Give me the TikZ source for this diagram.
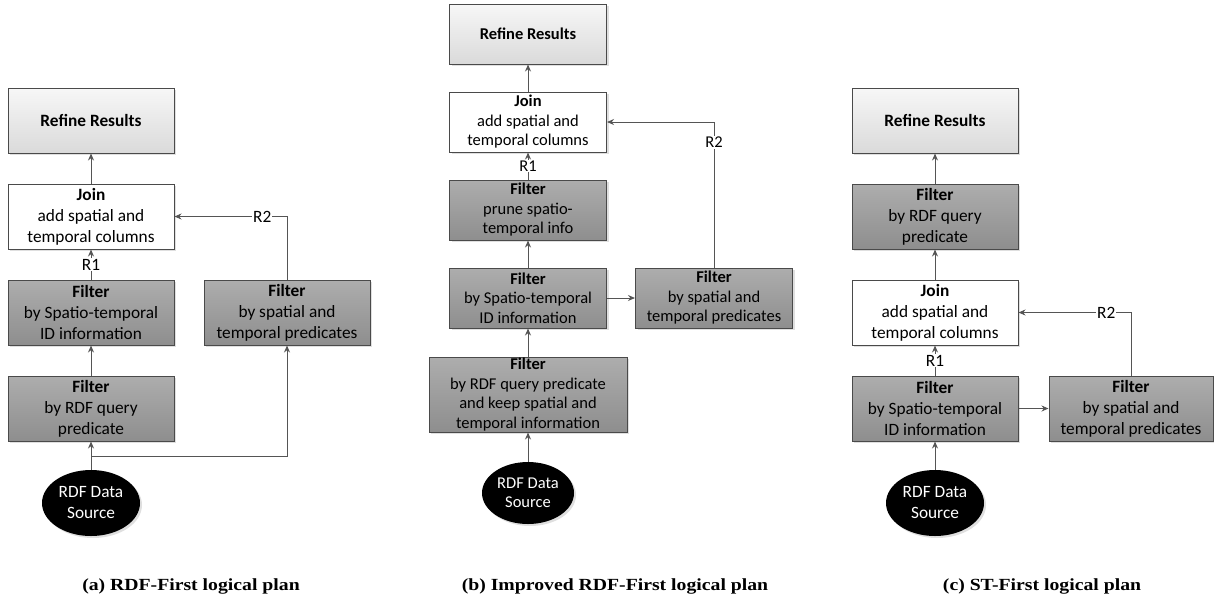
\documentclass[tikz,border=0pt]{standalone}
\usepackage{fontspec}
\setmainfont{Carlito}
\newfontfamily\capfont[FakeStretch=1.16]{Liberation Serif}
\usetikzlibrary{arrows.meta,shapes.geometric,shadows}
\definecolor{bordercol}{HTML}{4A4A4A}
\definecolor{linecol}{HTML}{555555}
\definecolor{filttop}{HTML}{ADADAD}
\definecolor{filtbot}{HTML}{8E8E8E}
\definecolor{reftop}{HTML}{F7F7F7}
\definecolor{refbot}{HTML}{DADADA}
\tikzset{
  box/.style={rectangle, draw=bordercol, line width=1pt, align=center, inner sep=0pt,
    drop shadow={shadow xshift=2pt, shadow yshift=-2pt, opacity=0.25, fill=gray}},
  bigfont/.style={font=\fontsize{17.3}{21}\selectfont},
  smallfont/.style={font=\fontsize{16.5}{19.5}\selectfont},
  refine/.style={box, top color=reftop, bottom color=refbot},
  filt/.style={box, top color=filttop, bottom color=filtbot},
  joinbox/.style={box, fill=white},
  src/.style={ellipse, fill=black, text=white, align=center, inner sep=0pt,
    drop shadow={shadow xshift=2pt, shadow yshift=-2pt, opacity=0.25, fill=gray}},
  conn/.style={draw=linecol, line width=1pt, -{Stealth[length=7pt,width=6pt]}},
  lab/.style={fill=white, inner sep=1pt},
  capt/.style={font=\capfont\bfseries\fontsize{17}{20}\selectfont, anchor=base},
  asize/.style={minimum width=166pt, minimum height=65pt},
  bsize/.style={minimum width=157pt, minimum height=60pt},
}
\begin{document}
\begin{tikzpicture}[x=1pt,y=-1pt]
\useasboundingbox (0,0) rectangle (1214,598);

% ---------- (a) ----------
\begin{scope}[bigfont]
\node[refine, asize] (a-ref) at (91,120.5) {\textbf{Refine Results}};
\node[joinbox, asize] (a-join) at (91,216.5) {\textbf{Join}\\add spatial and\\temporal columns};
\node[filt, asize] (a-st) at (91,312.5) {\textbf{Filter}\\by Spatio-temporal\\ID information};
\node[filt, asize] (a-rdf) at (91,408.5) {\textbf{Filter}\\by RDF query\\predicate};
\node[filt, asize] (a-sp) at (287,312.5) {\textbf{Filter}\\by spatial and\\temporal predicates};
\node[src, minimum width=98pt, minimum height=66pt] (a-src) at (91,503) {RDF Data\\Source};
\coordinate (a-br) at (91,456);
\coordinate (a-r2c) at (287,216.5);
\draw[conn] (a-join) -- (a-ref);
\draw[conn] (a-st) -- node[lab]{R1} (a-join);
\draw[conn] (a-rdf) -- (a-st);
\draw[conn] (a-src) -- (a-rdf);
\draw[conn] (a-br) -| (a-sp.south);
\draw[conn] (a-sp.north) -- (a-r2c) -- node[lab, pos=0.22]{R2} (a-join.east);
\end{scope}

% ---------- (b) ----------
\begin{scope}[smallfont]
\node[refine, bsize] (b-ref) at (528,34) {\textbf{Refine Results}};
\node[joinbox, bsize] (b-join) at (528,122) {\textbf{Join}\\add spatial and\\temporal columns};
\node[filt, bsize] (b-pr) at (528,210) {\textbf{Filter}\\prune spatio-\\temporal info};
\node[filt, bsize] (b-st) at (528,298) {\textbf{Filter}\\by Spatio-temporal\\ID information};
\node[filt, minimum width=198pt, minimum height=75pt] (b-rdf) at (528,394.5) {\textbf{Filter}\\by RDF query predicate\\and keep spatial and\\temporal information};
\node[filt, bsize] (b-sp) at (714,298) {\textbf{Filter}\\by spatial and\\temporal predicates};
\node[src, minimum width=92pt, minimum height=62pt] (b-src) at (528,493) {RDF Data\\Source};
\coordinate (b-r2c) at (714,122);
\draw[conn] (b-join) -- (b-ref);
\draw[conn] (b-pr) -- node[lab]{R1} (b-join);
\draw[conn] (b-st) -- (b-pr);
\draw[conn] (b-rdf) -- (b-st);
\draw[conn] (b-src) -- (b-rdf);
\draw[conn] (b-st) -- (b-sp);
\draw[conn] (b-sp.north) -- node[lab, pos=0.86]{R2} (b-r2c) -- (b-join.east);
\end{scope}

% ---------- (c) ----------
\begin{scope}[bigfont]
\node[refine, asize] (c-ref) at (935,120.5) {\textbf{Refine Results}};
\node[filt, asize] (c-rdf) at (935,216.5) {\textbf{Filter}\\by RDF query\\predicate};
\node[joinbox, asize] (c-join) at (935,312.5) {\textbf{Join}\\add spatial and\\temporal columns};
\node[filt, asize] (c-st) at (935,408.5) {\textbf{Filter}\\by Spatio-temporal\\ID information};
\node[filt, minimum width=164pt, minimum height=65pt] (c-sp) at (1131,408.5) {\textbf{Filter}\\by spatial and\\temporal predicates};
\node[src, minimum width=98pt, minimum height=66pt] (c-src) at (935,503) {RDF Data\\Source};
\coordinate (c-r2c) at (1131,312.5);
\draw[conn] (c-rdf) -- (c-ref);
\draw[conn] (c-join) -- (c-rdf);
\draw[conn] (c-st) -- node[lab]{R1} (c-join);
\draw[conn] (c-src) -- (c-st);
\draw[conn] (c-st) -- (c-sp);
\draw[conn] (c-sp.north) -- (c-r2c) -- node[lab, pos=0.22]{R2} (c-join.east);
\end{scope}

% ---------- captions ----------
\node[capt] (cap-a) at (191,590) {(a) RDF-First logical plan};
\node[capt] (cap-b) at (615,590) {(b) Improved RDF-First logical plan};
\node[capt] (cap-c) at (1042,590) {(c) ST-First logical plan};
\end{tikzpicture}
\end{document}
